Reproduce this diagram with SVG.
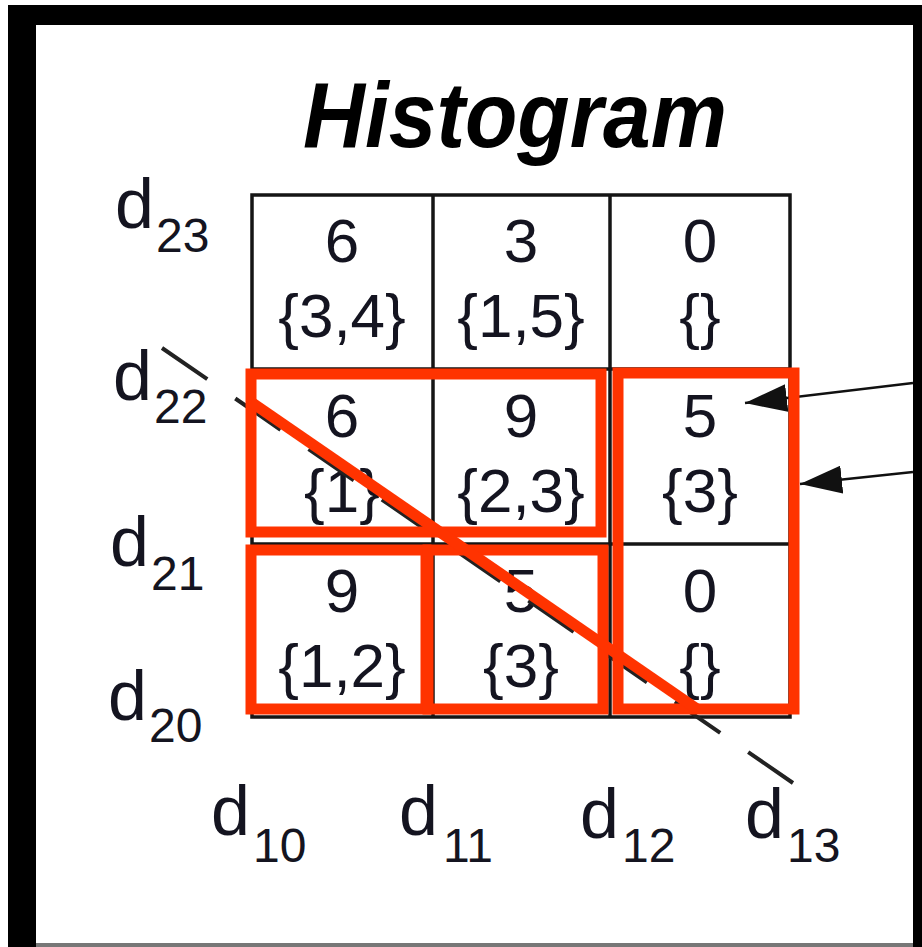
<svg xmlns="http://www.w3.org/2000/svg" width="922" height="947" viewBox="0 0 922 947">
<style>
.grid{fill:none;stroke:#151515;stroke-width:3.5}
.num{font-family:"Liberation Sans",Arial,sans-serif;font-size:62px;fill:#141420;text-anchor:middle}
.lab{font-family:"Liberation Sans",Arial,sans-serif;font-size:70px;fill:#141420}
.sub{font-size:48px}
.red{fill:none;stroke:#ff3300;stroke-width:11}
.arrow{stroke:#111;stroke-width:2.5;fill:none}
</style>
<defs>
<marker id="ah" viewBox="0 0 42 28" refX="42" refY="14" markerWidth="42" markerHeight="28" markerUnits="userSpaceOnUse" orient="auto">
<path d="M0,0 L42,14 L0,28 z" fill="#111"/>
</marker>
</defs>
<rect width="922" height="947" fill="#fff"/>
<g id="frame">
<rect x="8" y="5" width="914" height="942" fill="#000"/>
<rect x="36" y="25" width="877" height="918" fill="#fff"/>
<rect x="36" y="943" width="877" height="4" fill="#777"/>
</g>
<g id="title">
<text x="303" y="147" font-family="'Liberation Sans',Arial,sans-serif" font-size="92" font-weight="bold" font-style="italic" fill="#000" textLength="424" lengthAdjust="spacingAndGlyphs">Histogram</text>
</g>
<g id="grid">
<rect class="grid" x="252" y="195" width="538" height="522"/>
<line class="grid" x1="433" y1="195" x2="433" y2="717"/>
<line class="grid" x1="610" y1="195" x2="610" y2="717"/>
<line class="grid" x1="252" y1="369" x2="790" y2="369"/>
<line class="grid" x1="252" y1="544" x2="790" y2="544"/>
</g>
<g id="cells">
<g id="c-0-0"><text class="num" x="342" y="262">6</text><text class="num" x="342" y="337">{3,4}</text></g>
<g id="c-1-0"><text class="num" x="521" y="262">3</text><text class="num" x="521" y="337">{1,5}</text></g>
<g id="c-2-0"><text class="num" x="700" y="262">0</text><text class="num" x="700" y="337">{}</text></g>
<g id="c-0-1"><text class="num" x="342" y="437">6</text><text class="num" x="342" y="512">{1}</text></g>
<g id="c-1-1"><text class="num" x="521" y="437">9</text><text class="num" x="521" y="512">{2,3}</text></g>
<g id="c-2-1"><text class="num" x="700" y="437">5</text><text class="num" x="700" y="512">{3}</text></g>
<g id="c-0-2"><text class="num" x="342" y="612">9</text><text class="num" x="342" y="687">{1,2}</text></g>
<g id="c-1-2"><text class="num" x="521" y="612">5</text><text class="num" x="521" y="687">{3}</text></g>
<g id="c-2-2"><text class="num" x="700" y="612">0</text><text class="num" x="700" y="687">{}</text></g>
</g>
<g id="ylabels">
<text class="lab" x="115" y="228">d<tspan class="sub" x="156" y="252">23</tspan></text>
<text class="lab" x="113" y="400">d<tspan class="sub" x="154" y="423">22</tspan></text>
<text class="lab" x="110" y="566">d<tspan class="sub" x="151" y="590">21</tspan></text>
<text class="lab" x="108" y="720">d<tspan class="sub" x="149" y="742">20</tspan></text>
</g>
<g id="xlabels">
<text class="lab" x="211" y="835">d<tspan class="sub" x="253" y="862">10</tspan></text>
<text class="lab" x="399" y="835">d<tspan class="sub" x="443" y="862">11</tspan></text>
<text class="lab" x="580" y="838">d<tspan class="sub" x="622" y="862">12</tspan></text>
<text class="lab" x="745" y="838">d<tspan class="sub" x="787" y="862">13</tspan></text>
</g>
<g id="connectors">
<line x1="162" y1="348" x2="793" y2="783" stroke="#222" stroke-width="4" stroke-dasharray="55 34"/>
<line class="arrow" x1="913" y1="383" x2="745" y2="403" marker-end="url(#ah)"/>
<line class="arrow" x1="913" y1="472" x2="800" y2="484" marker-end="url(#ah)"/>
</g>
<g id="highlights">
<rect class="red" x="251" y="374" width="350" height="158"/>
<rect class="red" x="618" y="373" width="176" height="336"/>
<rect class="red" x="251" y="550" width="175" height="159"/>
<rect class="red" x="428" y="550" width="175" height="159"/>
<line class="red" x1="251" y1="402" x2="697" y2="709"/>
</g>
</svg>
